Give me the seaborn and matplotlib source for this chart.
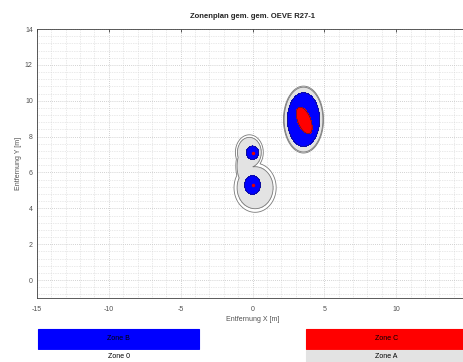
import numpy as np
import matplotlib
matplotlib.use("Agg")
import matplotlib.pyplot as plt
from matplotlib.patches import Rectangle
from matplotlib.ticker import MultipleLocator
import pandas as pd
import seaborn as sns

# ---- data ----
title = "Zonenplan gem. gem. OEVE R27-1"
zone_names = ["Zone 0", "Zone A", "Zone B", "Zone C"]
zone_levels = [0.86, 1.0, 2.0, 10.0]
zone_colors = ["#ffffff", "#e3e3e3", "#0000ff", "#ff0000"]

# field sources (centre, amplitude, spreads, orientation)
src_x = [3.55, 3.60, 0.00, 0.00, -0.22, 0.18, -0.55]
src_y = [8.95, 8.90, 7.10, 5.30, 7.12, 5.15, 6.35]
src_amp = [9.2, 100.0, 4.0, 4.0, 1.5, 1.5, 1.5]
src_su = [0.64, 0.38, 0.36, 0.47, 0.92, 1.39, 0.58]
src_sv = [0.857, 0.20, 0.32, 0.44, 0.93, 1.30, 1.05]
src_angle = [0.0, -60.0, 0.0, 0.0, 0.0, 0.0, 0.0]

# marked points
pt_x = [0.0, 0.0]
pt_y = [7.10, 5.30]

x_ticks = [-15, -10, -5, 0, 5, 10]
y_ticks = [0, 2, 4, 6, 8, 10, 12, 14]

# ---- style ----
sns.set_theme(style="white")
plt.rcParams["font.family"] = ["Liberation Sans", "DejaVu Sans"]
plt.rcParams["axes.unicode_minus"] = False
txt = "#505050"

fig = plt.figure(figsize=(4.63, 3.62), dpi=100)
ax = fig.add_axes([37 / 463, 64 / 362, 431 / 463, 269 / 362])

gx = np.linspace(-15, 15, 901)
gy = np.linspace(-1, 14, 751)
X, Y = np.meshgrid(gx, gy)
fields = []
for x0, y0, a, su, sv, ang in zip(src_x, src_y, src_amp, src_su, src_sv, src_angle):
    t = np.deg2rad(ang)
    dx, dy = X - x0, Y - y0
    u = dx * np.cos(t) + dy * np.sin(t)
    v = -dx * np.sin(t) + dy * np.cos(t)
    fields.append(a * np.exp(-0.5 * ((u / su) ** 2 + (v / sv) ** 2)))
F = np.max(fields, axis=0)

ax.set_axisbelow(True)
ax.contourf(X, Y, F, levels=zone_levels + [1e4], colors=zone_colors, zorder=2)
ax.contour(X, Y, F, levels=zone_levels[:2], colors="#7a7a7a", linewidths=0.6, zorder=3)
ax.contour(X, Y, F, levels=zone_levels[2:], colors="#1a1a4a", linewidths=0.4, zorder=3)

pts = pd.DataFrame({"x": pt_x, "y": pt_y})
sns.scatterplot(data=pts, x="x", y="y", color="#e00000", s=6, linewidth=0, ax=ax, zorder=5)

ax.set_xlim(-15, 15)
ax.set_ylim(-1, 14)
ax.set_xticks(x_ticks)
ax.set_yticks(y_ticks)
ax.xaxis.set_minor_locator(MultipleLocator(1))
ax.yaxis.set_minor_locator(MultipleLocator(0.4))
ax.grid(which="major", color="#c4c4c4", linestyle=(0, (1, 1.5)), linewidth=0.6)
ax.grid(which="minor", color="#d4d4d4", linestyle=(0, (1, 1.5)), linewidth=0.5)
ax.tick_params(which="major", direction="in", length=2.5, width=0.6, top=True, right=True,
               labelsize=5, colors="#404040", labelcolor=txt, pad=3)
ax.tick_params(axis="x", which="major", pad=6)
ax.tick_params(which="minor", length=0)
for s in ax.spines.values():
    s.set_color("#404040")
    s.set_linewidth(0.6)
ax.set_xlabel("Entfernung X [m]", fontsize=5, color=txt, labelpad=2)
ax.set_ylabel("Entfernung Y [m]", fontsize=5, color=txt, labelpad=2)
ax.set_title(title, fontsize=5.5, fontweight="bold", color="#222222", pad=8)

# zone legend boxes
W, H = 463, 362
boxes = [
    ("Zone B", "#0000ff", 38, 329, 161, 20, 339),
    ("Zone 0", "#ffffff", 38, 350, 161, 15, 357),
    ("Zone C", "#ff0000", 306, 329, 161, 20, 339),
    ("Zone A", "#e3e3e3", 306, 350, 161, 15, 357),
]
for name, col, bx, by, bw, bh, ty in boxes:
    r = Rectangle((bx / W, 1 - (by + bh) / H), bw / W, bh / H, transform=fig.transFigure,
                  facecolor=col, edgecolor=col, linewidth=0.8)
    fig.add_artist(r)
    fig.text((bx + bw / 2) / W, 1 - ty / H, name,
             ha="center", va="center", fontsize=5, color="#000000")

fig.savefig("out.png", dpi=100)
